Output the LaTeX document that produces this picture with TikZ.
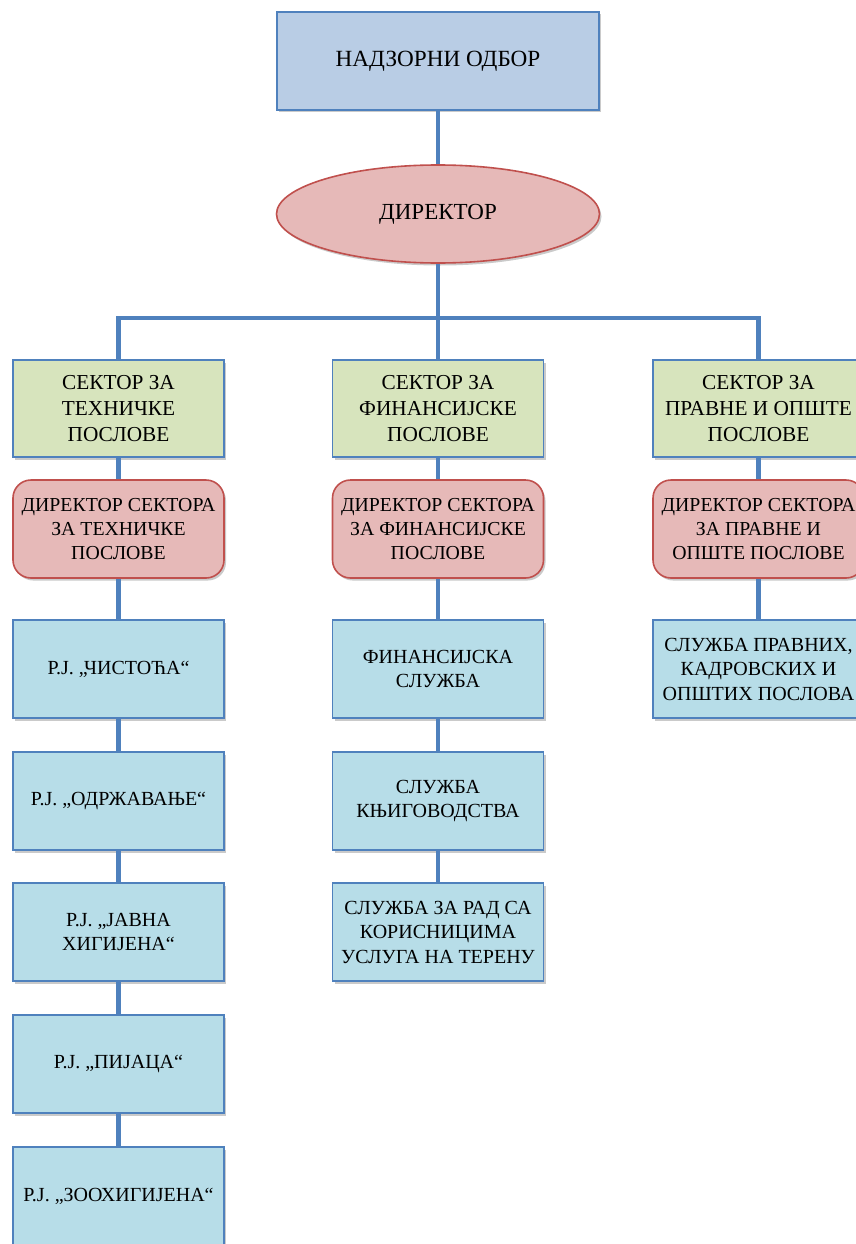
\documentclass[tikz,border=0pt]{standalone}
\usepackage{fontspec}
\setmainfont{Liberation Serif}
\usetikzlibrary{shapes.geometric,shadows}
\definecolor{edgeblue}{HTML}{4F81BD}
\definecolor{topfill}{HTML}{B9CDE5}
\definecolor{redfill}{HTML}{E6B9B8}
\definecolor{redline}{HTML}{C0504D}
\definecolor{greenfill}{HTML}{D7E4BD}
\definecolor{aquafill}{HTML}{B7DDE8}
\tikzset{
  x=1pt,y=-1pt,
  shad/.style={drop shadow={shadow xshift=2pt,shadow yshift=-2.5pt,opacity=0.35,fill=black!60}},
  base/.style={shad,line width=1.6pt,align=center,inner sep=1pt,text=black},
  topbox/.style={base,rectangle,draw=edgeblue,fill=topfill,minimum width=322pt,minimum height=98pt,font=\fontsize{23.2}{27}\selectfont},
  direll/.style={base,ellipse,draw=redline,fill=redfill,minimum width=323pt,minimum height=98pt,font=\fontsize{23}{27}\selectfont},
  secbox/.style={base,rectangle,draw=edgeblue,fill=greenfill,minimum width=211pt,minimum height=97pt,font=\fontsize{21.3}{26}\selectfont},
  dirbox/.style={base,rectangle,rounded corners=18pt,draw=redline,fill=redfill,minimum width=211pt,minimum height=98pt,font=\fontsize{19.8}{24}\selectfont},
  unitbox/.style={base,rectangle,draw=edgeblue,fill=aquafill,minimum width=211pt,minimum height=98pt,font=\fontsize{20}{24.5}\selectfont},
  conn/.style={draw=edgeblue,line width=4.5pt,line join=miter}
}
\begin{document}
\begin{tikzpicture}
\useasboundingbox (0,0) rectangle (855,1244);
\coordinate (bus) at (438,318);
% nodes
\node[topbox] (nad) at (438,61) {НАДЗОРНИ ОДБОР};
\node[direll] (dir) at (438,214) {ДИРЕКТОР};

\node[secbox] (s1) at (118.5,408.5) {СЕКТОР ЗА\\ТЕХНИЧКЕ\\ПОСЛОВЕ};
\node[secbox] (s2) at (438,408.5) {СЕКТОР ЗА\\ФИНАНСИЈСКЕ\\ПОСЛОВЕ};
\node[secbox] (s3) at (758.5,408.5) {СЕКТОР ЗА\\ПРАВНЕ И ОПШТЕ\\ПОСЛОВЕ};

\node[dirbox] (d1) at (118.5,529) {ДИРЕКТОР СЕКТОРА\\ЗА ТЕХНИЧКЕ\\ПОСЛОВЕ};
\node[dirbox] (d2) at (438,529) {ДИРЕКТОР СЕКТОРА\\ЗА ФИНАНСИЈСКЕ\\ПОСЛОВЕ};
\node[dirbox] (d3) at (758.5,529) {ДИРЕКТОР СЕКТОРА\\ЗА ПРАВНЕ И\\ОПШТЕ ПОСЛОВЕ};

\node[unitbox] (u11) at (118.5,669) {Р.Ј. „ЧИСТОЋА“};
\node[unitbox] (u12) at (118.5,801) {Р.Ј. „ОДРЖАВАЊЕ“};
\node[unitbox] (u13) at (118.5,932) {Р.Ј. „ЈАВНА\\ХИГИЈЕНА“};
\node[unitbox] (u14) at (118.5,1064) {Р.Ј. „ПИЈАЦА“};
\node[unitbox] (u15) at (118.5,1196) {Р.Ј. „ЗООХИГИЈЕНА“};

\node[unitbox] (u21) at (438,669) {ФИНАНСИЈСКА\\СЛУЖБА};
\node[unitbox] (u22) at (438,801) {СЛУЖБА\\КЊИГОВОДСТВА};
\node[unitbox] (u23) at (438,932) {СЛУЖБА ЗА РАД СА\\КОРИСНИЦИМА\\УСЛУГА НА ТЕРЕНУ};

\node[unitbox] (u31) at (758.5,669) {СЛУЖБА ПРАВНИХ,\\КАДРОВСКИХ И\\ОПШТИХ ПОСЛОВА};

\draw[conn] (nad) -- (dir);
\draw[conn] (dir) -- (bus);
\draw[conn] (s1.north) |- (bus) -| (s3.north);
\draw[conn] (bus) -- (s2.north);
\draw[conn] (s1) -- (d1);
\draw[conn] (s2) -- (d2);
\draw[conn] (s3) -- (d3);
\draw[conn] (d1) -- (u11);
\draw[conn] (u11) -- (u12);
\draw[conn] (u12) -- (u13);
\draw[conn] (u13) -- (u14);
\draw[conn] (u14) -- (u15);
\draw[conn] (d2) -- (u21);
\draw[conn] (u21) -- (u22);
\draw[conn] (u22) -- (u23);
\draw[conn] (d3) -- (u31);
\end{tikzpicture}
\end{document}
